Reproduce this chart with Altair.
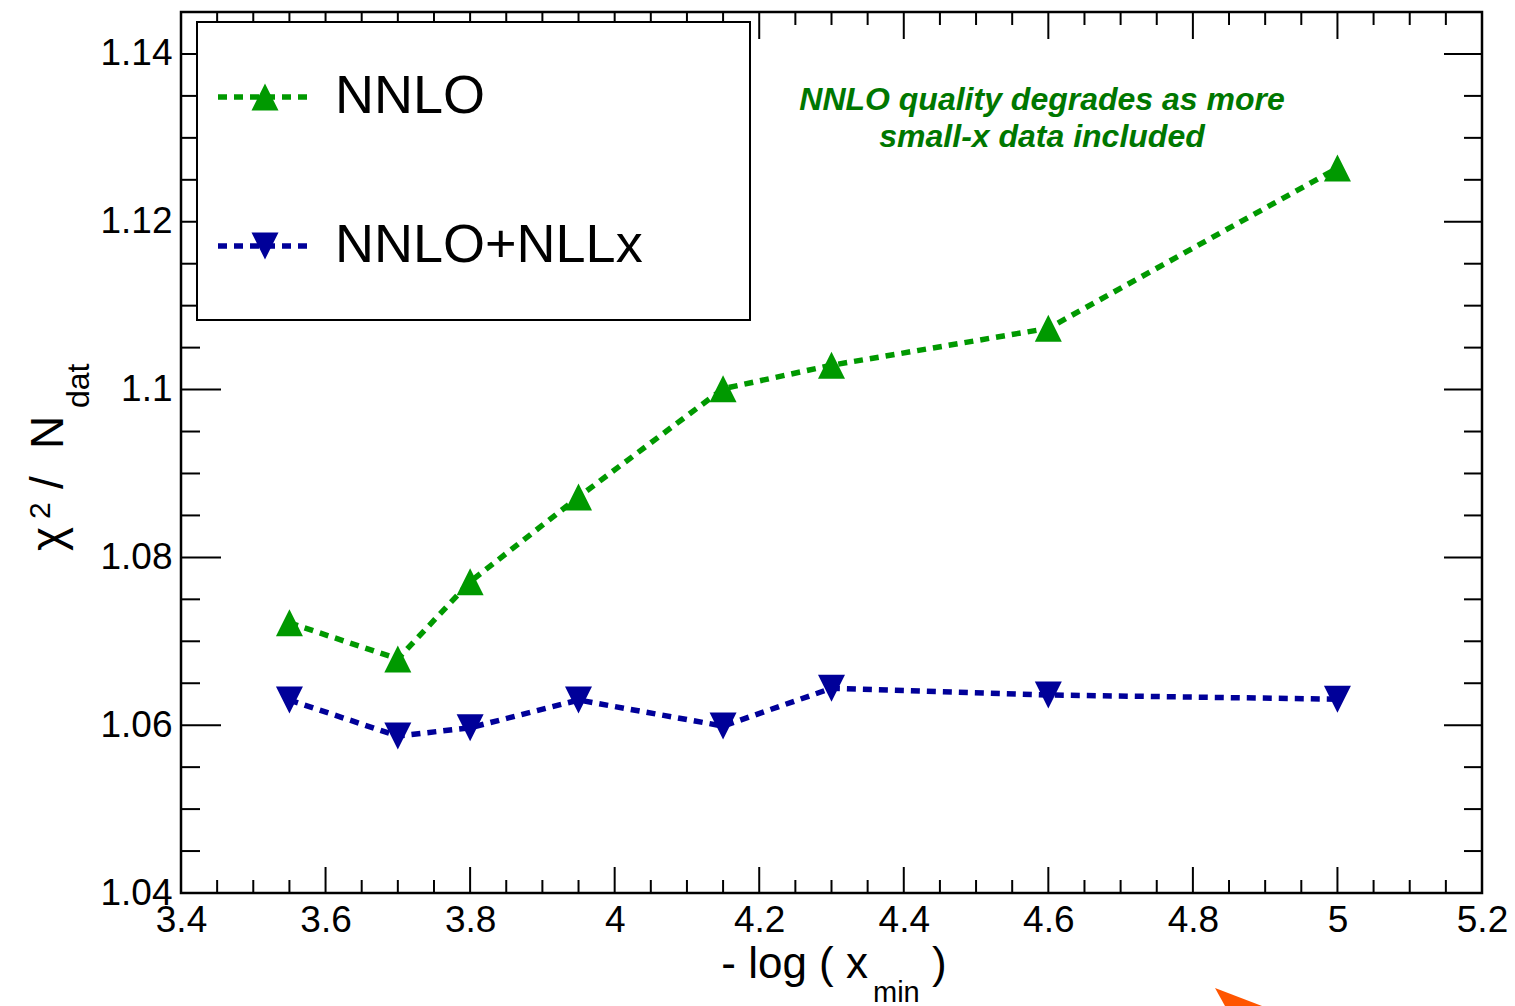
import altair as alt
import pandas as pd

# ---------------- data ----------------
x_vals = [3.55, 3.7, 3.8, 3.95, 4.15, 4.3, 4.6, 5.0]
nnlo = [1.0722, 1.0679, 1.0771, 1.0872, 1.1001, 1.1029, 1.1073, 1.1264]
nnlo_nllx = [1.0630, 1.0587, 1.0597, 1.0630, 1.0599, 1.0644, 1.0636, 1.0631]
series_names = ["NNLO", "NNLO+NLLx"]
series_colors = ["#009900", "#000099"]

x_major = [3.4, 3.6, 3.8, 4.0, 4.2, 4.4, 4.6, 4.8, 5.0, 5.2]
x_minor = [3.45, 3.5, 3.55, 3.65, 3.7, 3.75, 3.85, 3.9, 3.95, 4.05, 4.1, 4.15,
           4.25, 4.3, 4.35, 4.45, 4.5, 4.55, 4.65, 4.7, 4.75, 4.85, 4.9, 4.95,
           5.05, 5.1, 5.15]
y_major = [1.04, 1.06, 1.08, 1.10, 1.12, 1.14]
y_minor = [1.045, 1.05, 1.055, 1.065, 1.07, 1.075, 1.085, 1.09, 1.095, 1.105,
           1.11, 1.115, 1.125, 1.13, 1.135]

annotation_lines = ["NNLO quality degrades as more", "small-x data included"]

# ---------------- layout ----------------
W, H = 1301, 881
FONT = "Liberation Sans"

df = pd.DataFrame({
    "x": x_vals * 2,
    "y": nnlo + nnlo_nllx,
    "series": [series_names[0]] * len(x_vals) + [series_names[1]] * len(x_vals),
})

xs = alt.Scale(domain=[3.4, 5.2], nice=False, zero=False)
ys = alt.Scale(domain=[1.04, 1.145], nice=False, zero=False)
col_scale = alt.Scale(domain=series_names, range=series_colors)
tri_up = "M0,-1L1,1L-1,1Z"
tri_down = "M0,1L1,-1L-1,-1Z"
shape_scale = alt.Scale(domain=series_names, range=[tri_up, tri_down])

x_axis = alt.Axis(values=x_major, format="~g", title="", ticks=False, domain=False,
                  grid=False, labelFontSize=37, labelFont=FONT, labelColor="black",
                  labelPadding=9, labelFlush=False, labelOverlap=False)
y_axis = alt.Axis(values=y_major, format="~g", title="", ticks=False, domain=False,
                  grid=False, labelFontSize=37, labelFont=FONT, labelColor="black",
                  labelPadding=9, labelFlush=False, labelOverlap=False)

X = lambda: alt.X("x:Q", scale=xs, axis=x_axis)
Y = lambda: alt.Y("y:Q", scale=ys, axis=y_axis)

# tick marks (inward on four sides)
dxmaj = pd.DataFrame({"x": x_major})
dxmin = pd.DataFrame({"x": x_minor})
dymaj = pd.DataFrame({"y": y_major})
dymin = pd.DataFrame({"y": y_minor})

def xticks(d, y0, y1):
    return alt.Chart(d).mark_rule(color="black", strokeWidth=2).encode(
        x=X(), y=alt.value(y0), y2=alt.value(y1))

def yticks(d, x0, x1):
    return alt.Chart(d).mark_rule(color="black", strokeWidth=2).encode(
        y=Y(), x=alt.value(x0), x2=alt.value(x1))

base = alt.Chart(df)
lines = base.mark_line(strokeDash=[9, 7], strokeWidth=5.5, strokeCap="butt").encode(
    x=X(), y=Y(),
    color=alt.Color("series:N", scale=col_scale, legend=None),
    detail="series:N",
)
points = base.mark_point(filled=True, opacity=1, size=729).encode(
    x=X(), y=Y(),
    color=alt.Color("series:N", scale=col_scale, legend=None),
    shape=alt.Shape("series:N", scale=shape_scale, legend=None),
)

ticks = [
    xticks(dxmaj, H, H - 26), xticks(dxmin, H, H - 13),
    xticks(dxmaj, 0, 27), xticks(dxmin, 0, 13),
    yticks(dymaj, 0, 40), yticks(dymin, 0, 19),
    yticks(dymaj, W, W - 38), yticks(dymin, W, W - 18),
]

# ---------------- legend box ----------------
one = pd.DataFrame({"k": [0]})
leg_box = alt.Chart(one).mark_rect(fill="white", stroke="black", strokeWidth=2).encode(
    x=alt.value(16), x2=alt.value(569), y=alt.value(10), y2=alt.value(308))

leg_layers = [leg_box]
for name, col, path, yy in [(series_names[0], series_colors[0], tri_up, 85),
                            (series_names[1], series_colors[1], tri_down, 234)]:
    d = pd.DataFrame({"label": [name]})
    leg_layers.append(alt.Chart(d).mark_rule(color=col, strokeWidth=5.5, strokeDash=[9, 7]).encode(
        x=alt.value(37), x2=alt.value(131), y=alt.value(yy)))
    leg_layers.append(alt.Chart(d).mark_point(filled=True, opacity=1, size=729, color=col,
                                              shape=path).encode(
        x=alt.value(84), y=alt.value(yy)))
    leg_layers.append(alt.Chart(d).mark_text(align="left", baseline="middle", fontSize=54,
                                             font=FONT, color="black").encode(
        x=alt.value(154), y=alt.value(yy), text="label:N"))

# ---------------- annotation ----------------
ann_layers = []
for txt, yy in zip(annotation_lines, [88, 125]):
    ann_layers.append(alt.Chart(pd.DataFrame({"t": [txt]})).mark_text(
        align="center", baseline="middle", fontSize=32, font=FONT, fontWeight="bold",
        fontStyle="italic", color="#007700").encode(
        x=alt.value(861), y=alt.value(yy), text="t:N"))

# ---------------- axis titles ----------------
def txt(s, x, y, size, align="left", angle=0):
    return alt.Chart(pd.DataFrame({"t": [s]})).mark_text(
        align=align, baseline="alphabetic", fontSize=size, font=FONT, color="black",
        angle=angle).encode(x=alt.value(x), y=alt.value(y), text="t:N")

titles = [
    txt("- log ( x", 687, 966, 44, align="right"),
    txt("min", 692, 990, 29),
    txt(")", 751, 966, 44),
    txt("χ", -118, 539, 46, angle=270),
    txt("2", -131, 507, 30, angle=270),
    txt("/", -118, 477, 46, angle=270),
    txt("N", -118, 437, 46, angle=270),
    txt("dat", -92, 396, 32, angle=270),
]

# fragment of an orange arrow at the bottom edge
arrow = alt.Chart(one).mark_point(filled=True, opacity=1, size=4, color="#ff5500",
                                  shape="M0,0L47,18L10,18Z").encode(
    x=alt.value(1034), y=alt.value(976))

chart = alt.layer(lines, points, *ticks, *leg_layers, *ann_layers, *titles, arrow).properties(
    width=W, height=H,
    padding={"left": 181, "top": 12, "right": 33, "bottom": 113},
    autosize=alt.AutoSizeParams(type="none"),
    background="white",
).configure_view(stroke="black", strokeWidth=2.5)

chart.save("out.html", embed_options={"renderer": "svg", "actions": False})
